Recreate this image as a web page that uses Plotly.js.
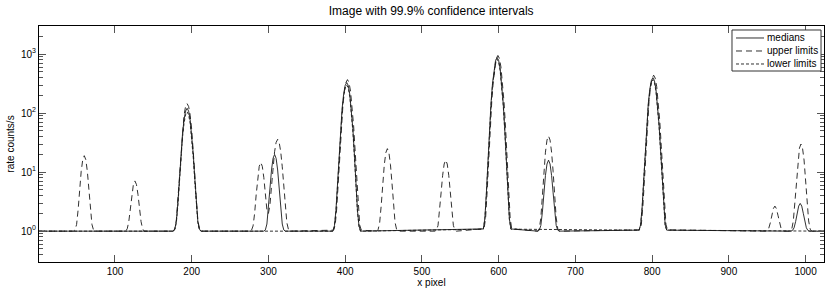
<!DOCTYPE html>
<html>
<head>
<meta charset="utf-8">
<script src="https://cdn.plot.ly/plotly-3.0.1.min.js"></script>
<style>html,body{margin:0;padding:0;background:#fff;}#plot{width:830px;height:290px;}</style>
</head>
<body>
<div id="plot"></div>
<script>
// ---- data ----
const seriesNames = ["medians", "upper limits", "lower limits"];

const medX = [1,
  176,178,180,182,184,186,188,190,192,194,196,198,200,202,204,206,208,210,212,
  294,296,298,300,302,304,306,308,310,312,314,316,318,320,322,
  384,386,388,390,392,394,396,398,400,402,404,406,408,410,412,414,416,418,420,
  580,582,584,586,588,590,592,594,596,598,600,602,604,606,608,610,612,614,616,
  651,653,655,657,659,661,663,665,667,669,671,673,675,677,679,
  783,785,787,789,791,793,795,797,799,801,803,805,807,809,811,813,815,817,819,
  981,983,985,987,989,991,993,995,997,999,1001,1003,1005,
  1024];
const medY = [1,
  1,1.085,1.464,3.03,8.06,20.56,44.25,77.2,108.2,121,108.2,77.2,44.25,20.56,8.06,3.03,1.464,1.085,1,
  1,1.05,1.32,2.39,5.37,10.88,17.13,20,17.13,10.88,5.37,2.39,1.32,1.05,1,
  1,1.23,2.27,6.55,20.35,54.6,119.6,209.9,294.8,330,294.8,209.9,119.6,54.6,20.35,6.55,2.27,1.23,1,
  1.09,1.62,4.40,15.84,52.7,144.3,317.8,559.2,786,880,786,559.2,317.8,144.3,52.7,15.84,4.40,1.62,1.09,
  1,1.04,1.25,2.10,4.45,8.80,13.74,16,13.74,8.80,4.45,2.10,1.25,1.04,1,
  1.04,1.28,2.54,7.74,24.46,66.0,144.8,254.4,357.3,400,357.3,254.4,144.8,66.0,24.46,7.74,2.54,1.28,1.04,
  1,1.03,1.14,1.45,2.01,2.66,2.95,2.66,2.01,1.45,1.14,1.03,1,
  1];

const upX = [1,
  46,48,50,52,54,56,58,60,62,64,66,68,70,72,74,
  114,116,118,120,122,124,126,128,130,132,134,136,138,
  176,178,180,182,184,186,188,190,192,194,196,198,200,202,204,206,208,210,212,
  276,278,280,282,284,286,288,290,292,294,296,298,300,302,304,306,308,310,312,314,316,318,320,322,324,326,328,
  385,387,389,391,393,395,397,399,401,403,405,407,409,411,413,415,417,419,421,
  441,443,445,447,449,451,453,455,457,459,461,463,465,467,469,
  517,519,521,523,525,527,529,531,533,535,537,539,541,543,545,
  581,583,585,587,589,591,593,595,597,599,601,603,605,607,609,611,613,615,617,
  651,653,655,657,659,661,663,665,667,669,671,673,675,677,679,
  784,786,788,790,792,794,796,798,800,802,804,806,808,810,812,814,816,818,820,
  948,950,952,954,956,958,960,962,964,966,968,970,972,
  980,982,984,986,988,990,992,994,996,998,1000,1002,1004,1006,1008,
  1024];
const upY = [1,
  1,1.05,1.30,2.32,5.14,10.36,16.28,19,16.28,10.36,5.14,2.32,1.30,1.05,1,
  1,1.10,1.45,2.40,4.17,6.18,7.1,6.18,4.17,2.40,1.45,1.10,1,
  1,1.10,1.56,3.43,9.47,24.47,52.9,92.4,129.6,145,129.6,92.4,52.9,24.47,9.47,3.43,1.56,1.10,1,
  1,1.04,1.23,2.0,4.13,8.07,12.55,14.6,12.55,8.07,4.14,2.3,2.0,2.8,5.74,12.36,22.2,31.9,36,31.9,22.2,12.36,5.74,2.54,1.39,1.08,1,
  1.04,1.26,2.43,7.23,22.7,61.1,134.0,235.3,330.5,370,330.5,235.3,134.0,61.1,22.7,7.23,2.43,1.26,1.04,
  1,1.07,1.41,2.76,6.52,13.48,21.38,25,21.38,13.48,6.52,2.76,1.41,1.07,1,
  1,1.04,1.25,2.10,4.45,8.80,13.74,16,13.74,8.80,4.45,2.10,1.25,1.04,1,
  1.10,1.67,4.67,17.02,56.8,155.7,343.0,603.6,848.5,950,848.5,603.6,343.0,155.7,56.8,17.02,4.67,1.67,1.10,
  1,1.11,1.68,3.94,10.2,21.8,34.96,41,34.96,21.8,10.2,3.94,1.68,1.11,1,
  1.05,1.31,2.70,8.41,26.8,72.6,159.2,279.8,393.0,440,393.0,279.8,159.2,72.6,26.8,8.41,2.70,1.31,1.05,
  1,1.03,1.12,1.38,1.86,2.41,2.66,2.41,1.86,1.38,1.12,1.03,1,
  1,1.08,1.49,3.13,7.67,16.08,25.6,30,25.6,16.08,7.67,3.13,1.49,1.08,1,
  1];

const loX = [1,
  176,178,180,182,184,186,188,190,192,194,196,198,200,202,204,206,208,210,212,
  384,386,388,390,392,394,396,398,400,402,404,406,408,410,412,414,416,418,420,
  580,582,584,586,588,590,592,594,596,598,600,602,604,606,608,610,612,614,616,
  783,785,787,789,791,793,795,797,799,801,803,805,807,809,811,813,815,817,819,
  1024];
const loY = [1,
  1,1.07,1.40,2.76,7.12,17.95,38.5,67.0,93.9,105,93.9,67.0,38.5,17.95,7.12,2.76,1.40,1.07,1,
  1,1.21,2.16,6.05,18.58,49.7,108.8,190.9,268.0,300,268.0,190.9,108.8,49.7,18.58,6.05,2.16,1.21,1,
  1.08,1.58,4.17,14.82,49.2,134.5,296.2,521.1,732.4,820,732.4,521.1,296.2,134.5,49.2,14.82,4.17,1.58,1.08,
  1.04,1.26,2.43,7.23,22.7,61.1,134.0,235.3,330.5,370,330.5,235.3,134.0,61.1,22.7,7.23,2.43,1.26,1.04,
  1];

const xTickVals = [100,200,300,400,500,600,700,800,900,1000];
const yTickVals = [1,10,100,1000];
const yTickText = ["10<sup>0</sup>","10<sup>1</sup>","10<sup>2</sup>","10<sup>3</sup>"];
const yMinorVals = [0.3,0.4,0.5,0.6,0.7,0.8,0.9,2,3,4,5,6,7,8,9,20,30,40,50,60,70,80,90,200,300,400,500,600,700,800,900,2000,3000];
const xRange = [1, 1024];
const yRange = [0.3, 3000];

// ---- drawing ----
const FONT = "Liberation Sans, Arial, Helvetica, sans-serif";
const lineCol = "#1a1a1a";
const dashes = ["solid", "6px,4px", "3px,2px"];
const seriesX = [medX, upX, loX];
const seriesY = [medY, upY, loY];
const traces = seriesNames.map((n, i) => ({
  x: seriesX[i], y: seriesY[i], name: n, type: "scatter", mode: "lines",
  line: {color: lineCol, width: 0.9, dash: dashes[i]}, showlegend: false
}));

const axCommon = {
  showline: true, linecolor: "#000", linewidth: 1, mirror: "allticks",
  ticks: "inside", tickcolor: "#555", tickwidth: 1, showgrid: false, zeroline: false,
  automargin: false,
  tickfont: {family: FONT, size: 10, color: "#000"}
};

// custom legend box (paper coordinates), compact rows like the reference
const legBox = {x0: 0.8828, x1: 0.9962, y0: 0.8093, y1: 0.9831};
const legRowsY = [0.9492, 0.8941, 0.8390];
const legLineX = [0.8879, 0.9236];
const legTextX = 0.9262;

const shapes = [{type: "rect", xref: "paper", yref: "paper",
  x0: legBox.x0, x1: legBox.x1, y0: legBox.y0, y1: legBox.y1,
  line: {color: "#333", width: 1}, fillcolor: "#fff", layer: "above"}];
const annotations = [];
seriesNames.forEach((n, i) => {
  shapes.push({type: "line", xref: "paper", yref: "paper",
    x0: legLineX[0], x1: legLineX[1], y0: legRowsY[i], y1: legRowsY[i],
    line: {color: lineCol, width: 0.9, dash: dashes[i]}, layer: "above"});
  annotations.push({xref: "paper", yref: "paper", x: legTextX, y: legRowsY[i],
    xanchor: "left", yanchor: "middle", showarrow: false, text: n, borderpad: 0,
    font: {family: FONT, size: 10, color: "#000"}});
});

const layout = {
  width: 830, height: 290,
  margin: {l: 39, r: 6, t: 26, b: 28, pad: 0},
  paper_bgcolor: "#fff", plot_bgcolor: "#fff",
  font: {family: FONT, size: 10, color: "#000"},
  showlegend: false,
  title: {text: "Image with 99.9% confidence intervals", font: {family: FONT, size: 12, color: "#000"},
          x: 0.5195, xanchor: "center", y: 0.962, yanchor: "middle"},
  xaxis: Object.assign({}, axCommon, {
    range: xRange, tickmode: "array", tickvals: xTickVals, ticklen: 7,
    title: {text: "x pixel", font: {family: FONT, size: 10, color: "#000"}, standoff: 2}
  }),
  yaxis: Object.assign({}, axCommon, {
    type: "log", range: [Math.log10(yRange[0]), Math.log10(yRange[1])],
    tickmode: "array", tickvals: yTickVals, ticktext: yTickText, ticklen: 7,
    minor: {tickmode: "array", tickvals: yMinorVals, ticks: "inside", ticklen: 4, tickcolor: "#555", tickwidth: 1, showgrid: false},
    title: {text: "rate counts/s", font: {family: FONT, size: 10, color: "#000"}, standoff: 4}
  }),
  shapes: shapes,
  annotations: annotations
};

Plotly.newPlot("plot", traces, layout, {staticPlot: true, displayModeBar: false});
</script>
</body>
</html>
